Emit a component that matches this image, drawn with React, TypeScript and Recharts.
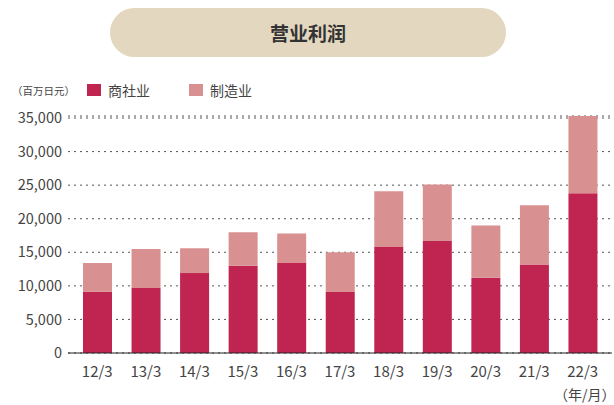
import { BarChart, Bar, XAxis, YAxis, CartesianGrid } from 'recharts'

const periods = ['12/3', '13/3', '14/3', '15/3', '16/3', '17/3', '18/3', '19/3', '20/3', '21/3', '22/3']
const trading = [9100, 9700, 11900, 13000, 13400, 9100, 15800, 16700, 11200, 13200, 23800]
const totals = [13400, 15500, 15600, 18000, 17800, 15000, 24100, 25100, 19000, 22000, 35300]
const yTicks = [0, 5000, 10000, 15000, 20000, 25000, 30000, 35000]

const DARK = '#c02450'
const LIGHT = '#d99090'
const FONT = '"Noto Sans CJK JP", "Noto Sans", sans-serif'

const chartData = periods.map((p, i) => ({
  period: p,
  trading: trading[i],
  manufacturing: totals[i] - trading[i],
}))

function LegendBox() {
  const item = (color: string, label: string, left: number) => (
    <div style={{ position: 'absolute', left, top: 0, display: 'flex', alignItems: 'center' }}>
      <span style={{ width: 14, height: 12, background: color, display: 'inline-block', marginRight: 7 }} />
      <span style={{ fontSize: 14, color: '#444' }}>{label}</span>
    </div>
  )
  return (
    <div style={{ position: 'absolute', left: 12, top: 80, width: 300, height: 20 }}>
      <span style={{ position: 'absolute', left: 0, top: 3, fontSize: 10.5, color: '#444' }}>（百万日元）</span>
      {item(DARK, '商社业', 75)}
      {item(LIGHT, '制造业', 177)}
    </div>
  )
}

export default function App() {
  return (
    <div style={{ position: 'absolute', left: 0, top: 0, width: 614, height: 405, background: '#fff', fontFamily: FONT }}>
      <div
        style={{
          position: 'absolute',
          left: 110,
          top: 8,
          width: 396,
          height: 49,
          borderRadius: 25,
          background: '#e3d7bf',
          display: 'flex',
          alignItems: 'center',
          justifyContent: 'center',
          fontSize: 19,
          fontWeight: 700,
          color: '#333',
        }}
      >
        营业利润
      </div>
      <LegendBox />
      <BarChart
        width={614}
        height={405}
        data={chartData}
        margin={{ top: 116, right: 2, bottom: 22, left: 8 }}
        barSize={29}
        style={{ position: 'absolute', left: 0, top: 0 }}
      >
        <CartesianGrid vertical={false} stroke='#555' strokeDasharray='2 4' />
        <XAxis
          dataKey='period'
          height={30}
          padding={{ left: 5, right: 5 }}
          tickLine={false}
          axisLine={{ stroke: '#222' }}
          tick={{ fill: '#444', fontSize: 15 }}
          tickMargin={7}
          interval={0}
        />
        <YAxis
          width={60}
          domain={[0, 35300]}
          ticks={yTicks}
          tickLine={false}
          axisLine={false}
          tickSize={4}
          tickMargin={2}
          tick={{ fill: '#444', fontSize: 14.5 }}
          tickFormatter={(v) => v.toLocaleString('en-US')}
        />
        <Bar dataKey='trading' stackId='a' fill={DARK} isAnimationActive={false} />
        <Bar dataKey='manufacturing' stackId='a' fill={LIGHT} isAnimationActive={false} />
      </BarChart>
      <div style={{ position: 'absolute', left: 554, top: 384, fontSize: 14, color: '#444' }}>（年/月）</div>
    </div>
  )
}
